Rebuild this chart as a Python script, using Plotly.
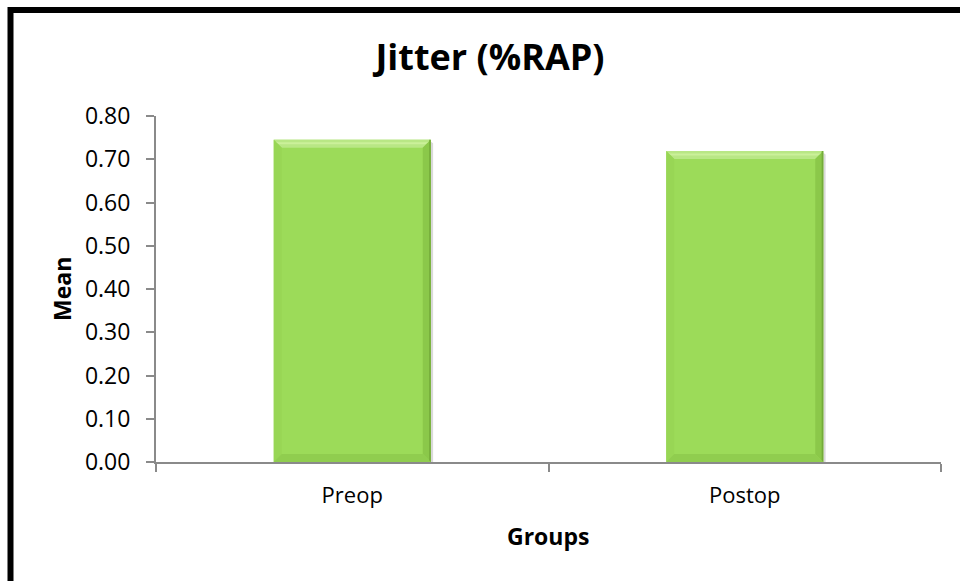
import plotly.graph_objects as go

# Mean jitter (%RAP) per group
groups = ["Preop", "Postop"]
means = [0.745, 0.719]
y_ticks = [0.0, 0.1, 0.2, 0.3, 0.4, 0.5, 0.6, 0.7, 0.8]

W, H = 960, 581
L, R, T, B = 156, 19, 116, 119
plot_w = W - L - R
plot_h = H - T - B

BAR_W = 0.4
FONT = "Open Sans"
AXIS_GREY = "#8a8a8a"

fig = go.Figure()

# Main bars on the category axis
fig.add_trace(go.Bar(
    x=groups, y=means, width=BAR_W,
    marker=dict(color="#9cdb59", line=dict(width=0)),
    hoverinfo="x+y", showlegend=False,
))

# Bevel facets drawn on an overlaid numeric axis (same span as the categories)
bx = 8 / (plot_w / 2)        # bevel depth in x units
by = 8 / (plot_h / 0.8)      # bevel depth in y units


def poly(xs, ys, color):
    fig.add_trace(go.Scatter(
        x=xs + [xs[0]], y=ys + [ys[0]], xaxis="x2", yaxis="y",
        mode="lines", fill="toself", fillcolor=color,
        line=dict(width=0), hoverinfo="skip", showlegend=False,
    ))


for i, v in enumerate(means):
    x0, x1 = i - BAR_W / 2, i + BAR_W / 2
    # soft drop shadow
    poly([x1, x1 + 0.006, x1 + 0.006, x1],
         [v - 0.004, v - 0.008, -0.002, -0.002], "rgba(0,0,0,0.15)")
    # top facet (light)
    poly([x0, x1, x1 - bx, x0 + bx], [v, v, v - by, v - by], "#b9e785")
    poly([x0 + 0.004, x1 - 0.004, x1 - 0.004 - 0.5 * bx, x0 + 0.004 + 0.5 * bx],
         [v - 0.3 * by, v - 0.3 * by, v - 0.55 * by, v - 0.55 * by], "#cbf09a")
    # left facet
    poly([x0, x0 + bx, x0 + bx, x0], [v, v - by, by, 0], "#98d655")
    # right facet (shaded)
    poly([x1, x1, x1 - bx, x1 - bx], [v, 0, by, v - by], "#8bc84a")
    poly([x1, x1, x1 - 0.004, x1 - 0.004], [v, 0, 0, v], "#74ab3a")
    # bottom facet (shaded)
    poly([x0, x1, x1 - bx, x0 + bx], [0, 0, by, by], "#90cd4f")

fig.update_layout(
    width=W, height=H,
    margin=dict(l=L, r=R, t=T, b=B, pad=0),
    paper_bgcolor="white", plot_bgcolor="white",
    font=dict(family=FONT, size=22, color="black"),
    title=dict(
        text="<b>Jitter (%RAP)</b>", font=dict(family=FONT, size=36, color="black"),
        xref="container", yref="container", x=490 / W, y=1 - 57 / H,
        xanchor="center", yanchor="middle",
    ),
    xaxis=dict(
        type="category", range=[-0.5, 1.5], tickson="boundaries",
        ticks="outside", ticklen=8, tickwidth=2, tickcolor=AXIS_GREY,
        showline=True, linecolor=AXIS_GREY, linewidth=2,
        showgrid=False, zeroline=False, ticklabelstandoff=13,
        tickfont=dict(family=FONT, size=22, color="black"),
    ),
    xaxis2=dict(
        overlaying="x", range=[-0.5, 1.5], visible=False,
        showgrid=False, zeroline=False,
    ),
    yaxis=dict(
        range=[0, 0.8], tickvals=y_ticks, tickformat=".2f",
        ticks="outside", ticklen=8, tickwidth=2, tickcolor=AXIS_GREY,
        showline=True, linecolor=AXIS_GREY, linewidth=2,
        showgrid=False, zeroline=False, ticklabelstandoff=11,
        tickfont=dict(family=FONT, size=23, color="black"),
    ),
    annotations=[
        dict(text="<b>Mean</b>", xref="paper", yref="paper",
             x=(62 - L) / plot_w, y=(H - B - 289) / plot_h, textangle=-90,
             xanchor="center", yanchor="middle", showarrow=False,
             font=dict(family=FONT, size=23, color="black")),
        dict(text="<b>Groups</b>", xref="paper", yref="paper",
             x=(548 - L) / plot_w, y=(H - B - 536) / plot_h,
             xanchor="center", yanchor="middle", showarrow=False,
             font=dict(family=FONT, size=23, color="black")),
    ],
    shapes=[
        # chart frame, continuing past the right and bottom edges
        dict(type="rect", xref="paper", yref="paper", layer="above",
             x0=(10.5 - L) / plot_w, x1=(990 - L) / plot_w,
             y0=(H - B - 620) / plot_h, y1=(H - B - 10) / plot_h,
             line=dict(color="black", width=6), fillcolor="rgba(0,0,0,0)"),
    ],
)

fig.write_html("out.html")
